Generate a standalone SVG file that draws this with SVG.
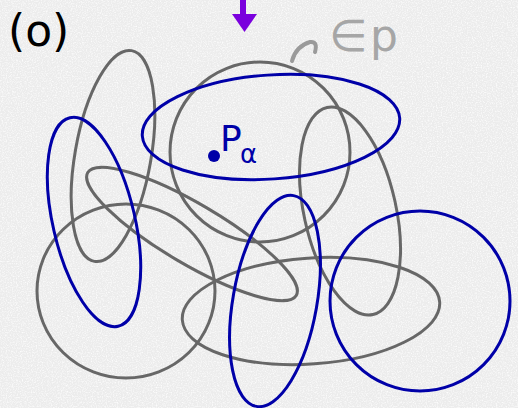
<svg xmlns="http://www.w3.org/2000/svg" width="518" height="408" viewBox="0 0 518 408">
  <defs>
    <filter id="paper" x="0" y="0" width="100%" height="100%">
      <feTurbulence type="fractalNoise" baseFrequency="0.8" numOctaves="2" seed="7" result="n"/>
      <feColorMatrix in="n" type="matrix" values="0 0 0 0 1  0 0 0 0 1  0 0 0 0 1  0 0 0 -2.2 1.25"/>
    </filter>
    <style>
      .g { fill: none; stroke: #676767; stroke-width: 3; }
      .b { fill: none; stroke: #0000a8; stroke-width: 3; }
      .hand { font-family: "DejaVu Sans", "Liberation Sans", sans-serif; }
    </style>
  </defs>

  <rect width="518" height="408" fill="#ececec"/>
  <rect width="518" height="408" filter="url(#paper)" opacity="0.9"/>

  <g id="label-o">
    <text class="hand" x="8" y="46" font-size="44" fill="#000">(o)</text>
  </g>

  <g id="gray-sets">
    <ellipse id="g1" class="g" cx="113" cy="156" rx="38" ry="107" transform="rotate(10 113 156)"/>
    <ellipse id="g2" class="g" cx="126" cy="291" rx="89" ry="87"/>
    <ellipse id="g3" class="g" cx="260" cy="152" rx="90" ry="90"/>
    <ellipse id="g4" class="g" cx="192" cy="234" rx="121" ry="30" transform="rotate(30.5 192 234)"/>
    <ellipse id="g5" class="g" cx="350" cy="211" rx="46" ry="106" transform="rotate(-12.5 350 211)"/>
    <ellipse id="g6" class="g" cx="311" cy="311" rx="129" ry="53" transform="rotate(-4 311 311)"/>
  </g>

  <g id="blue-sets">
    <ellipse id="b1" class="b" cx="94" cy="222" rx="41" ry="107" transform="rotate(-13 94 222)"/>
    <ellipse id="b2" class="b" cx="271" cy="127" rx="129" ry="52" transform="rotate(-4 271 127)"/>
    <ellipse id="b3" class="b" cx="275" cy="301" rx="42" ry="107" transform="rotate(10 275 301)"/>
    <ellipse id="b4" class="b" cx="420" cy="301" rx="90" ry="90"/>
  </g>

  <g id="point-p-alpha">
    <circle cx="214" cy="156" r="6" fill="#0000a8"/>
    <text class="hand" x="220" y="151" font-size="36" fill="#0000a8">P</text>
    <text class="hand" x="240" y="163" font-size="26" fill="#0000a8">α</text>
  </g>

  <g id="label-in-p">
    <text class="hand" x="329" y="51" font-size="44" fill="#a6a6a6">∈</text>
    <text class="hand" x="370" y="51" font-size="44" fill="#a6a6a6">p</text>
  </g>

  <g id="connectors">
    <g id="purple-arrow">
      <line x1="243" y1="0" x2="243" y2="17" stroke="#7a00dd" stroke-width="6"/>
      <polygon points="232,14 257,14 244.5,32" fill="#7a00dd"/>
    </g>
    <path id="hook-arrow" d="M292,61 Q296,46 310,42 Q318,41 315,52" fill="none" stroke="#9a9a9a" stroke-width="4" stroke-linecap="round"/>
  </g>
</svg>
